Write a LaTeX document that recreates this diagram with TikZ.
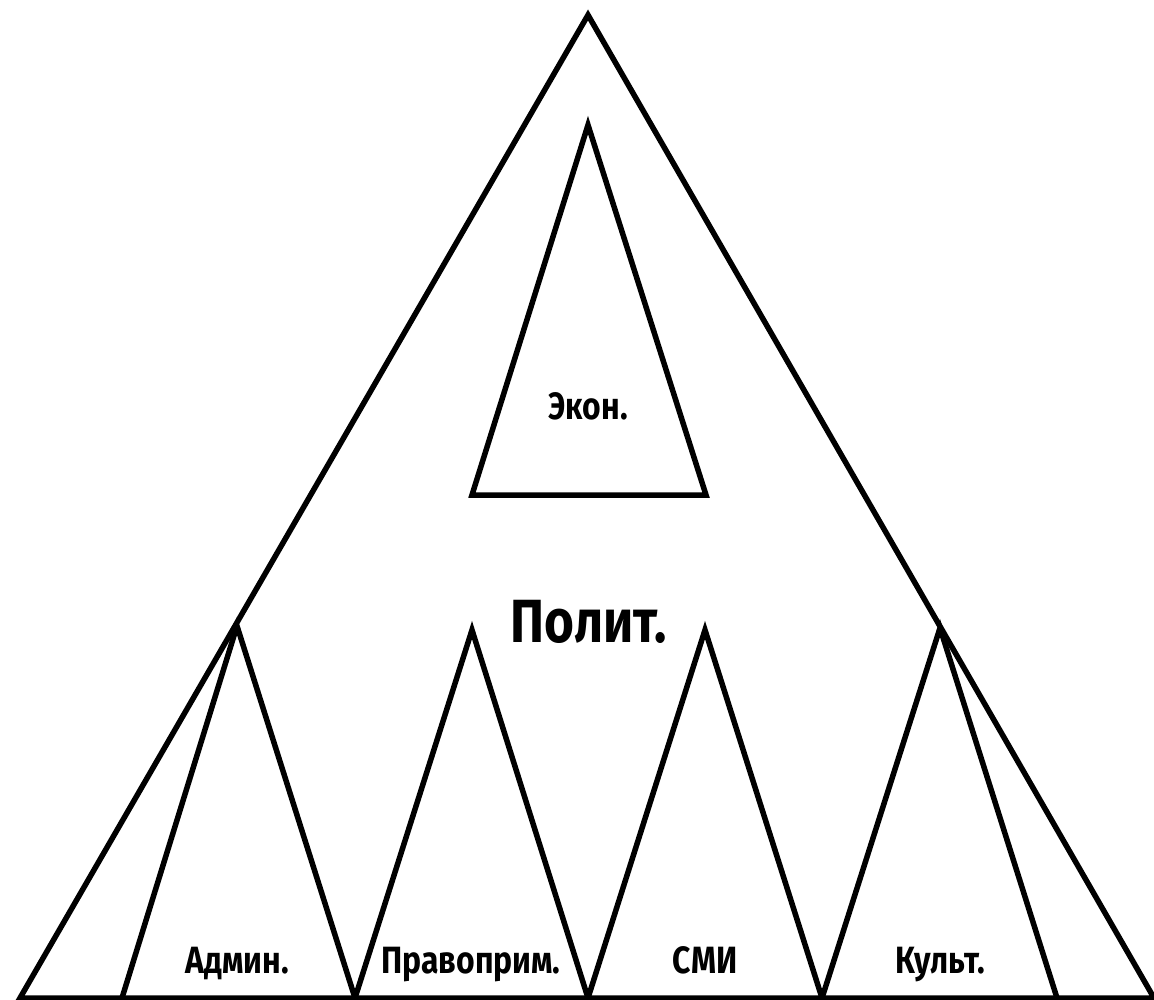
\documentclass[tikz,border=0pt]{standalone}
\usepackage{fontspec}
\setmainfont{Fira Sans}[FakeStretch=0.84]
\begin{document}
\begin{tikzpicture}[x=1pt,y=-1pt,
  tri/.style={draw=black,line width=5.5pt,line join=miter,miter limit=20},
  lbl/.style={font=\bfseries\fontsize{38}{42}\selectfont,inner sep=0pt,anchor=base},
  big/.style={font=\bfseries\fontsize{61}{66}\selectfont,inner sep=0pt,anchor=base}]
\useasboundingbox (0,0) rectangle (1154,1000);
% outer triangle
\coordinate (A) at (588,15);
\coordinate (BL) at (20,998);
\coordinate (BR) at (1154,998);
\draw[tri] (A) -- (BL) -- (BR) -- cycle;
% economy triangle
\coordinate (E1) at (588,125);
\coordinate (E2) at (472,495);
\coordinate (E3) at (706,495);
\draw[tri] (E1) -- (E2) -- (E3) -- cycle;
% small triangles
\coordinate (p0) at (122,998);
\coordinate (p1) at (355,998);
\coordinate (p2) at (588,998);
\coordinate (p3) at (822,998);
\coordinate (p4) at (1057,998);
\coordinate (t1) at (237,626);
\coordinate (t2) at (472,630);
\coordinate (t3) at (705,630);
\coordinate (t4) at (940,628);
\draw[tri] (p0) -- (t1) -- (p1);
\draw[tri] (p1) -- (t2) -- (p2);
\draw[tri] (p2) -- (t3) -- (p3);
\draw[tri] (p3) -- (t4) -- (p4);
% labels
\node[lbl] (ekon) at (588,419) {Экон.};
\node[big] (polit) at (589,642) {Полит.};
\node[lbl] (adm) at (237,973) {Админ.};
\node[lbl] (prav) at (471,973) {Правоприм.};
\node[lbl] (smi) at (705,973) {СМИ};
\node[lbl] (kult) at (940,973) {Культ.};
\end{tikzpicture}
\end{document}
